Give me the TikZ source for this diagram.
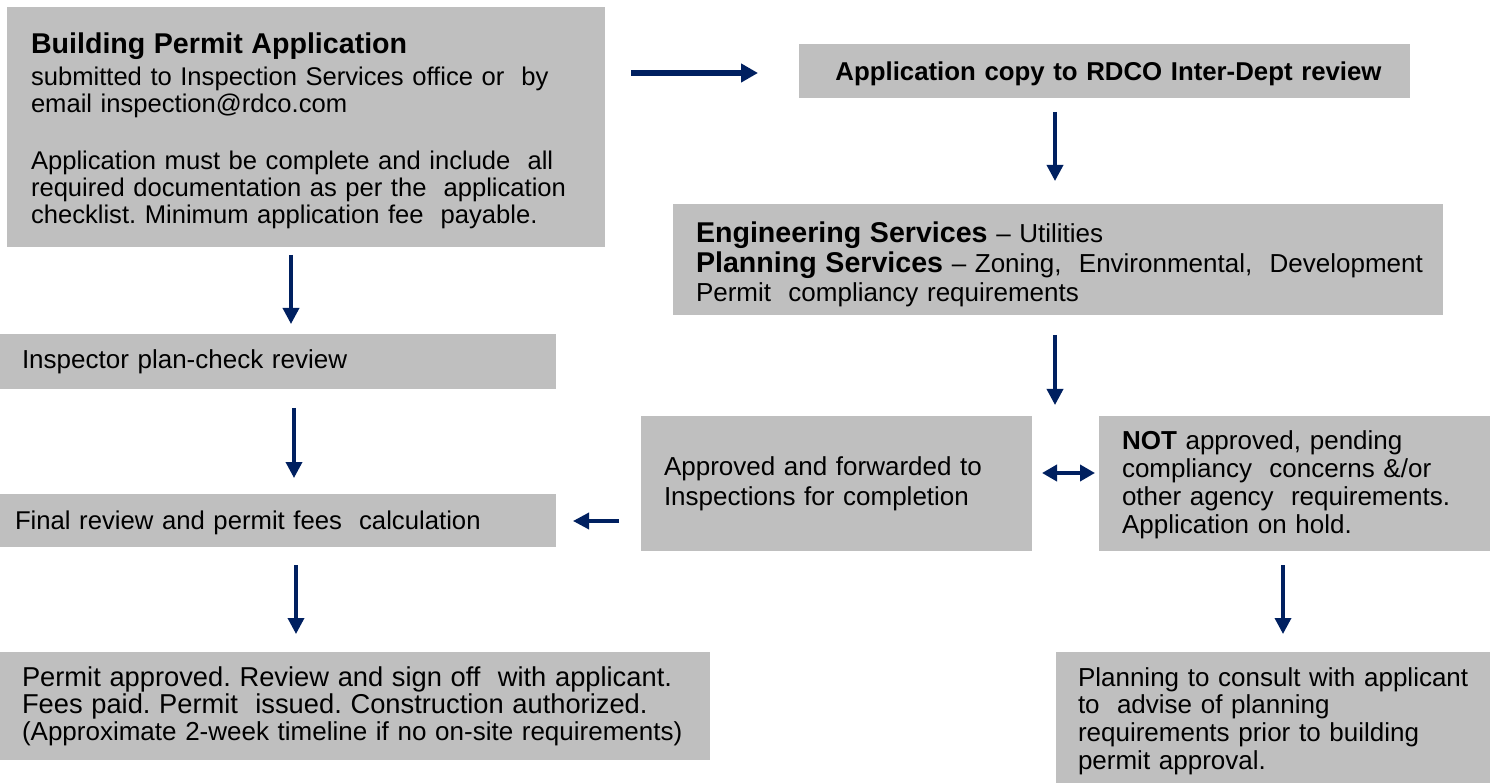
\documentclass[tikz,border=0pt]{standalone}
\usepackage{fontspec}
\setmainfont{Liberation Sans}
\usetikzlibrary{arrows.meta}
\definecolor{boxgray}{RGB}{191,191,191}
\definecolor{navyarrow}{RGB}{0,32,96}
\newcommand\rgfont[2]{\fontsize{#1}{#2}\selectfont\frenchspacing}
\newcommand\hdfont{\fontsize{28.6}{30}\selectfont\bfseries}
\newcommand\li[1]{\mbox{#1}}
\newcommand\tallstrut[1]{\rule{0pt}{#1pt}}
\begin{document}
\begin{tikzpicture}[x=1pt,y=-1pt,
  box/.style={fill=boxgray, draw=none, anchor=north west, align=left,
    inner ysep=0pt, outer sep=0pt},
  arr/.style={draw=navyarrow, line width=3.5pt,
    -{Triangle[length=16pt,width=16pt]}},
  bigarr/.style={draw=navyarrow, line width=5.5pt,
    -{Triangle[length=17pt,width=18pt]}},
  dblarr/.style={draw=navyarrow, line width=4pt,
    {Triangle[length=15pt,width=16pt]}-{Triangle[length=15pt,width=16pt]}}]
\useasboundingbox (0,0) rectangle (1497,783);

% boxes
\node[box, minimum width=598, minimum height=240, inner xsep=24, text width=550,
  font={\rgfont{25.6}{27}}] (app) at (7,7)
 {\li{\tallstrut{28}\hdfont Building Permit Application}\\[5pt]
  \li{submitted to Inspection Services office or\ \ by}\\
  \li{email inspection@rdco.com}\\[30pt]
  \li{Application must be complete and include\ \ all}\\
  \li{required documentation as per the\ \ application}\\
  \li{checklist. Minimum application fee\ \ payable.}};

\node[box, minimum width=611, minimum height=54, inner xsep=10, text width=591,
  align=center, font={\rgfont{25.8}{28}\bfseries}] (copy) at (799,44)
 {\li{\hspace*{8pt}\tallstrut{25}Application copy to RDCO Inter-Dept review}};

\node[box, minimum width=770, minimum height=111, inner xsep=23, text width=724,
  font={\rgfont{26}{29.5}}] (eng) at (673,204)
 {\li{\tallstrut{31}{\hdfont Engineering Services} – Utilities}\\
  \li{{\hdfont Planning Services} – Zoning,\ \ Environmental,\ \ Development}\\
  \li{Permit\ \ compliancy requirements}};

\node[box, minimum width=556, minimum height=55, inner xsep=22, text width=512,
  font={\rgfont{26}{28}}] (insp) at (0,334)
 {\li{Inspector plan-check review}};

\node[box, minimum width=391, minimum height=135, inner xsep=23, text width=345,
  font={\rgfont{26}{30}}] (ok) at (641,416)
 {\li{Approved and forwarded to}\\
  \li{Inspections for completion}};

\node[box, minimum width=391, minimum height=135, inner xsep=23, text width=345,
  font={\rgfont{26}{28}}] (notok) at (1099,416)
 {\li{\tallstrut{22}\textbf{NOT} approved, pending}\\
  \li{compliancy\ \ concerns \&/or}\\
  \li{other agency\ \ requirements.}\\
  \li{Application on hold.}};

\node[box, minimum width=556, minimum height=53, inner xsep=15, text width=526,
  font={\rgfont{25.7}{28}}] (final) at (0,494)
 {\li{\tallstrut{23}Final review and permit fees\ \ calculation}};

\node[box, minimum width=710, minimum height=108, inner xsep=22, text width=666,
  font={\rgfont{26}{27}}] (issued) at (0,652)
 {\li{\fontsize{27.3}{27}\selectfont Permit approved. Review and sign off\ \ with applicant.}\\
  \li{\fontsize{27.3}{27}\selectfont Fees paid. Permit\ \ issued. Construction authorized.}\\
  \li{(Approximate 2-week timeline if no on-site requirements)}};

\node[box, minimum width=434, minimum height=131, inner xsep=22, text width=390,
  font={\rgfont{26}{27.7}}] (consult) at (1056,652)
 {\li{\tallstrut{26}Planning to consult with applicant}\\
  \li{to\ \ advise of planning}\\
  \li{requirements prior to building}\\
  \li{permit approval.}};

% arrow end points
\coordinate (a1s) at (631,73);   \coordinate (a1e) at (758,73);
\coordinate (a2s) at (1055,112); \coordinate (a2e) at (1055,181);
\coordinate (a3s) at (291,255);  \coordinate (a3e) at (291,324);
\coordinate (a4s) at (1055,335); \coordinate (a4e) at (1055,405);
\coordinate (a5s) at (294,408);  \coordinate (a5e) at (294,478);
\coordinate (a6s) at (1042,473); \coordinate (a6e) at (1095,473);
\coordinate (a7s) at (619,521);  \coordinate (a7e) at (573,521);
\coordinate (a8s) at (296,565);  \coordinate (a8e) at (296,634);
\coordinate (a9s) at (1283,565); \coordinate (a9e) at (1283,634);

\draw[bigarr] (a1s) -- (a1e);
\draw[arr] (a2s) -- (a2e);
\draw[arr] (a3s) -- (a3e);
\draw[arr] (a4s) -- (a4e);
\draw[arr] (a5s) -- (a5e);
\draw[dblarr] (a6s) -- (a6e);
\draw[arr] (a7s) -- (a7e);
\draw[arr] (a8s) -- (a8e);
\draw[arr] (a9s) -- (a9e);
\end{tikzpicture}
\end{document}
